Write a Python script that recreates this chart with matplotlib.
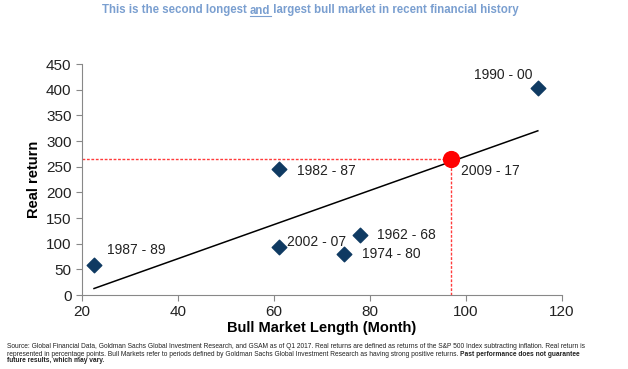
import matplotlib
matplotlib.use("Agg")
import matplotlib.pyplot as plt
import numpy as np

plt.rcParams['font.family'] = ['Liberation Sans', 'DejaVu Sans']

labels = ["1987 - 89", "1990 - 00", "1982 - 87", "2002 - 07", "1962 - 68", "1974 - 80"]
length = [22.5, 115, 61, 61, 78, 74.5]
ret = [58, 404, 245, 93, 117, 79]
cur_label = "2009 - 17"
cur_length = 97
cur_ret = 265
offsets = [(9, 11), (-4, 9), (13, -1), (6, 4), (12, 0), (13, 0)]
has = ['left', 'right', 'left', 'left', 'left', 'left']

fig = plt.figure(figsize=(6.28, 3.69), dpi=100)
ax = fig.add_axes([0.1306, 0.2005, 0.764, 0.626])

# trend line (least-squares fit of past bull markets)
slope, icpt = np.polyfit(length, ret, 1)
xl = np.array([min(length), max(length)])
ax.plot(xl, slope * xl + icpt, color='black', lw=1.1, zorder=2)

# red dashed guides
ax.plot([20, cur_length], [cur_ret, cur_ret], color='#ff3b3b', lw=1, ls=(0, (2, 1.2)), zorder=1)
ax.plot([cur_length, cur_length], [0, cur_ret], color='#ff3b3b', lw=1, ls=(0, (2, 1.2)), zorder=1)

ax.scatter(length, ret, marker='D', s=55, color='#0f3a62', zorder=3)
ax.scatter([cur_length], [cur_ret], marker='o', s=130, color='#ff0000', zorder=4)

for lab, x, y, off, ha in zip(labels, length, ret, offsets, has):
    ax.annotate(lab, (x, y), xytext=off, textcoords='offset points',
                ha=ha, va='center', fontsize=10, color='#222222')
ax.annotate(cur_label, (cur_length, cur_ret), xytext=(7, -9), textcoords='offset points',
            ha='left', va='center', fontsize=10, color='#222222')

ax.set_xlim(20, 120)
ax.set_ylim(0, 450)
ax.set_xticks(np.arange(20, 121, 20))
ax.set_yticks(np.arange(0, 451, 50))
for s in ['top', 'right']:
    ax.spines[s].set_visible(False)
for s in ['left', 'bottom']:
    ax.spines[s].set_color('#888888')
ax.tick_params(axis='both', labelsize=11, color='#888888', length=4, direction='out', labelcolor='#222222')
ax.set_xlabel('Bull Market Length (Month)', fontsize=10.5, fontweight='bold', labelpad=1)
ax.set_ylabel('Real return', fontsize=10.5, fontweight='bold', labelpad=4)

# Title with underlined "and"
tcol = '#7a9fd0'
tfs = 8.3
fig.canvas.draw()
r = fig.canvas.get_renderer()
W = fig.bbox.width
H = fig.bbox.height

parts = ["This is the second longest ", "and", " largest bull market in recent financial history"]
tmp = [fig.text(0, 0, p, fontsize=tfs, fontweight='bold', color=tcol) for p in parts]
widths = [t.get_window_extent(r).width for t in tmp]
for t in tmp:
    t.remove()
xstart = 102
ytxt = H - 10.5
cx = xstart
for p, w in zip(parts, widths):
    fig.text(cx / W, ytxt / H, p, fontsize=tfs, fontweight='bold', color=tcol, va='center')
    if p == "and":
        fig.add_artist(plt.Line2D([cx / W, (cx + w) / W], [(ytxt - 5) / H, (ytxt - 5) / H],
                                  color=tcol, lw=0.8, transform=fig.transFigure))
    cx += w

# footnote
l1 = ("Source: Global Financial Data, Goldman Sachs Global Investment Research, and GSAM as of Q1 2017. "
      "Real returns are defined as returns of the S&P 500 Index subtracting inflation. Real return is")
l2a = ("represented in percentage points. Bull Markets refer to periods defined by Goldman Sachs Global "
       "Investment Research as having strong positive returns. ")
l2b = "Past performance does not guarantee"
l3 = "future results, which may vary."
t0 = fig.text(0, 0, l1, fontsize=5)
w0 = t0.get_window_extent(r).width
t0.remove()
fs = 5 * 590 / w0
fx = 7 / W
fig.text(fx, 1 - 347 / H, l1, fontsize=fs, va='center', color='#222222')
ta = fig.text(fx, 1 - 354 / H, l2a, fontsize=fs, va='center', color='#222222')
wa = ta.get_window_extent(r).width
fig.text(fx + wa / W, 1 - 354 / H, l2b, fontsize=fs, va='center', fontweight='bold', color='#222222')
fig.text(fx, 1 - 361 / H, l3, fontsize=fs, va='center', fontweight='bold', color='#222222')

fig.savefig('out.png', dpi=100)
